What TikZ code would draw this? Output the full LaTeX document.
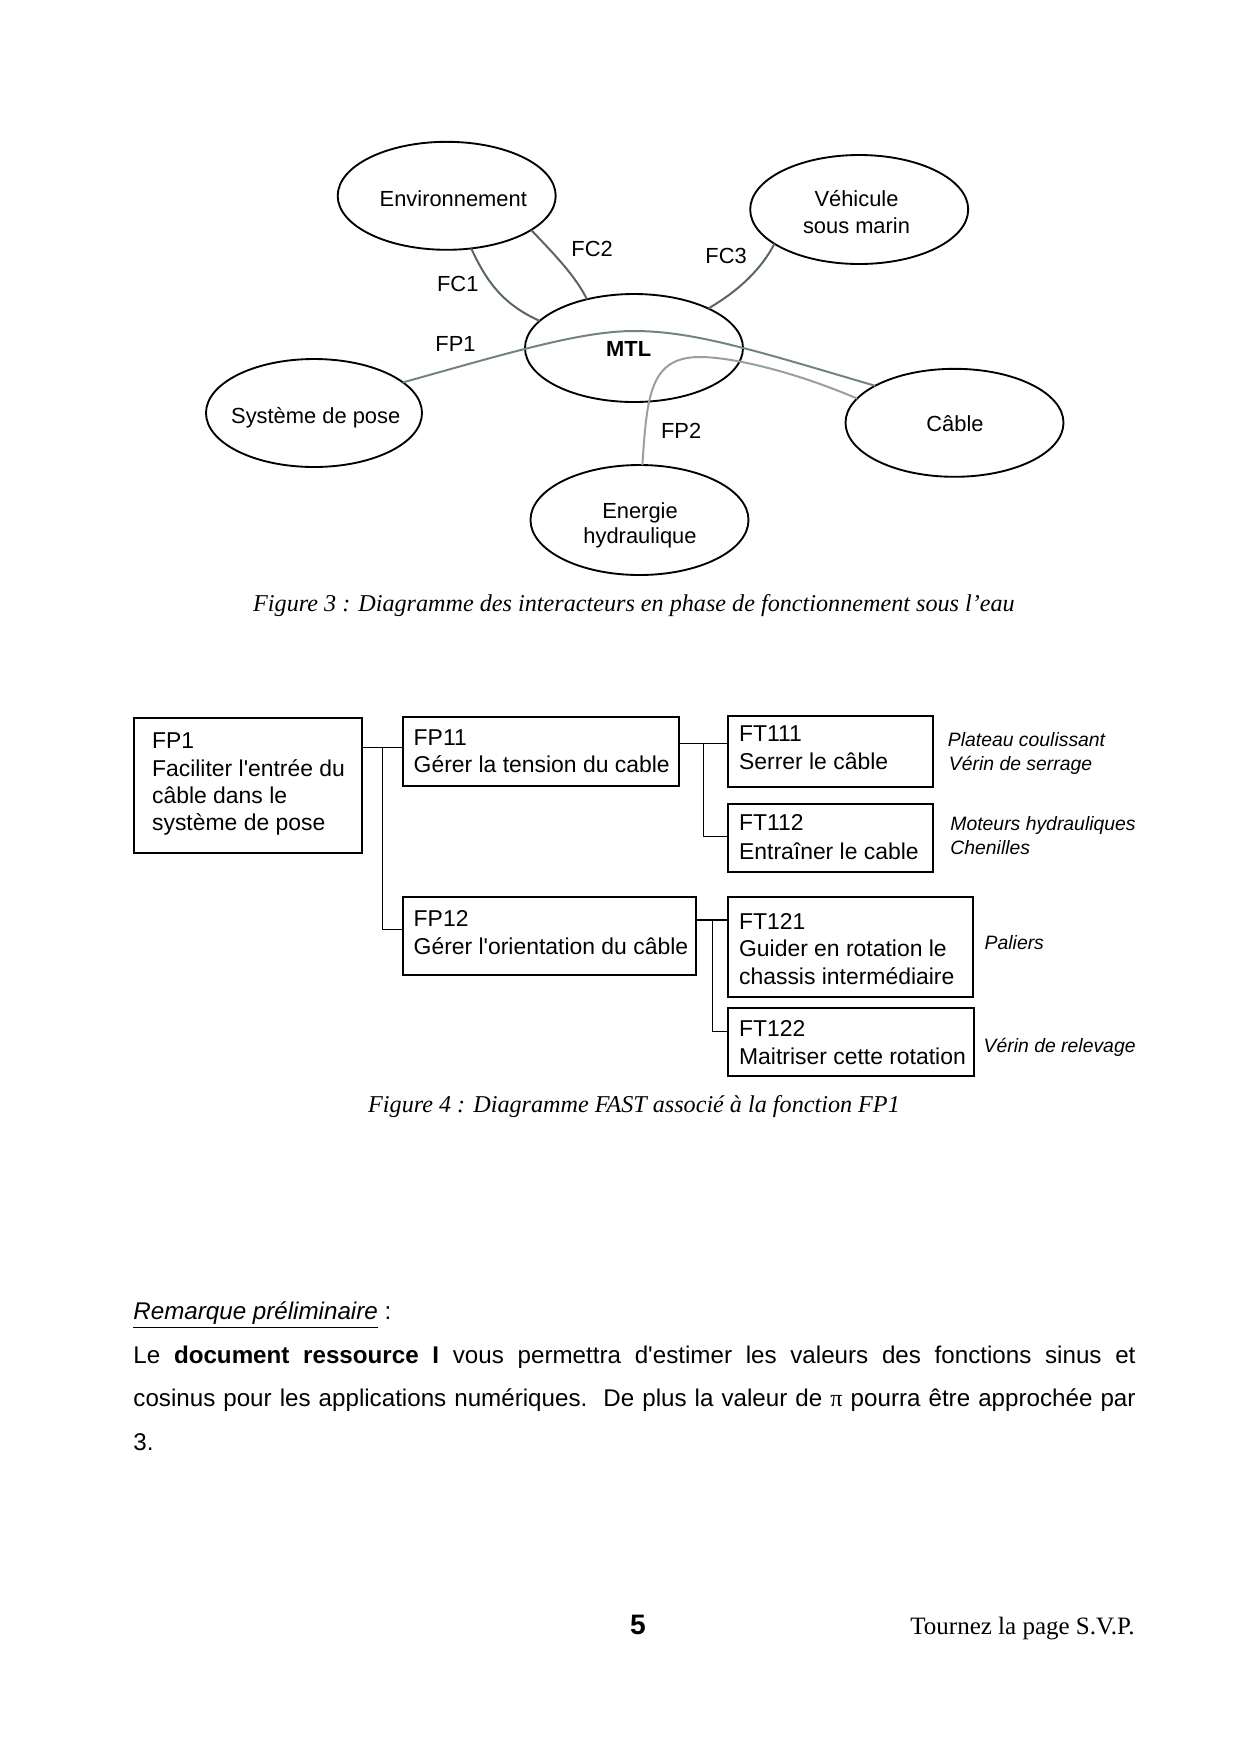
\documentclass[tikz,border=0pt]{standalone}
\usepackage{fontspec}
\setmainfont{Liberation Sans}
\newfontfamily\arialf{Liberation Sans}
\newfontfamily\seriff{Liberation Serif}
\usetikzlibrary{shapes.geometric,fit}
\definecolor{fcline}{RGB}{90,100,100}
\definecolor{fpone}{RGB}{115,130,130}
\definecolor{fptwo}{RGB}{150,160,160}
\begin{document}
\begin{tikzpicture}[x=0.48pt,y=-0.48pt,
  ell/.style={draw,ellipse,line width=0.9pt,inner sep=0pt,outer sep=0pt},
  elltxt/.style={inner sep=0pt,anchor=base,font=\fontsize{10.5}{12.5}\selectfont},
  flab/.style={inner sep=0pt,anchor=base west,font=\fontsize{10.5}{12.5}\selectfont},
  link/.style={line width=0.95pt},
  fbox/.style={draw,line width=0.9pt,inner sep=0pt,outer sep=0pt},
  ftxt/.style={inner sep=0pt,anchor=base west,font=\arialf\fontsize{11}{13}\selectfont},
  note/.style={inner sep=0pt,anchor=base west,font=\fontsize{9.3}{11}\selectfont\itshape},
  tee/.style={line width=0.6pt},
  captxt/.style={inner sep=0pt,anchor=base,font=\seriff\itshape\fontsize{11.6}{14}\selectfont},
  para/.style={inner sep=0pt,anchor=base west,font=\arialf\fontsize{11.6}{14}\selectfont}]
\useasboundingbox (0,0) rectangle (1240,1754);
\fill[white] (0,0) rectangle (1240,1754);

% ---------- Figure 3 ----------
\node[ell,minimum width=218*0.48pt,minimum height=108*0.48pt] (env) at (446.7,195.8) {};
\node[ell,minimum width=218*0.48pt,minimum height=109*0.48pt] (veh) at (859.2,209.5) {};
\node[ell,minimum width=218*0.48pt,minimum height=108*0.48pt] (mtl) at (634,348) {};
\node[ell,minimum width=216*0.48pt,minimum height=108*0.48pt] (sys) at (314,413) {};
\node[ell,minimum width=218*0.48pt,minimum height=108*0.48pt] (cab) at (954.5,422.8) {};
\node[ell,minimum width=218*0.48pt,minimum height=110*0.48pt] (ene) at (639.5,520) {};

\node[elltxt] (tenv) at (453.3,206.7) {Environnement};
\node[elltxt] (tveh1) at (856.5,206.7) {Véhicule};
\node[elltxt] (tveh2) at (856.5,233.3) {sous marin};
\node[elltxt,font=\fontsize{10.5}{12.5}\selectfont\bfseries] (tmtl) at (628.7,356.7) {MTL};
\node[elltxt] (tsys) at (315.7,423.3) {Système de pose};
\node[elltxt] (tcab) at (955,431.7) {Câble};
\node[elltxt] (tene1) at (640,518.3) {Energie};
\node[elltxt] (tene2) at (640,543.3) {hydraulique};

\draw[link,fcline] (env.-65.2) .. controls (488,285) and (505,305) .. (mtl.164.2);
\draw[link,fcline] (env.-22.9) .. controls (552,252) and (575,275) .. (mtl.134.3);
\draw[link,fcline] (veh.202.6) .. controls (762,268) and (740,290) .. (mtl.28.5);
\coordinate (fp1top) at (634,331);
\coordinate (fp2bend) at (700,357);
\draw[link,fpone] (sys.19.3) .. controls (505,354) and (580,331) .. (fp1top)
   .. controls (695,331) and (760,352) .. (cab.155);
\draw[link,fptwo] (ene.87.7) .. controls (647,395) and (650,357) .. (fp2bend)
   .. controls (730,357) and (790,370) .. (cab.166.9);

\node[flab] (lfc1) at (436.7,291.7) {FC1};
\node[flab] (lfc2) at (571,256.7) {FC2};
\node[flab] (lfc3) at (705,263.3) {FC3};
\node[flab] (lfp1) at (435,351.7) {FP1};
\node[flab] (lfp2) at (660.7,438.3) {FP2};

\node[captxt] (cap3) at (634,611.6) {Figure 3 : Diagramme des interacteurs en phase de fonctionnement sous l’eau};

% ---------- Figure 4 ----------
\node[fbox,fit={(134,718.3) (361.7,853.3)}] (fp1) {};
\node[fbox,fit={(403.3,717.3) (679.3,786)}] (fp11) {};
\node[fbox,fit={(403.3,897.3) (696,975)}] (fp12) {};
\node[fbox,fit={(728.3,716) (932.7,787.3)}] (ft111) {};
\node[fbox,fit={(728.3,804) (932.7,871.7)}] (ft112) {};
\node[fbox,fit={(728.3,897.3) (972.7,996.7)}] (ft121) {};
\node[fbox,fit={(728.3,1008.3) (974.3,1075.7)}] (ft122) {};

\coordinate (j1) at (382.7,747.3);
\coordinate (j1b) at (382.7,929.3);
\draw[tee] (fp1.east |- j1) -- (fp11.west |- j1);
\draw[tee] (j1) -- (j1b) -- (fp12.west |- j1b);
\coordinate (j2) at (703.3,743.3);
\coordinate (j2b) at (703.3,836.7);
\draw[tee] (fp11.east |- j2) -- (ft111.west |- j2);
\draw[tee] (j2) -- (j2b) -- (ft112.west |- j2b);
\coordinate (j3) at (712.7,920);
\coordinate (j3b) at (712.7,1031.7);
\draw[tee] (fp12.east |- j3) -- (ft121.west |- j3);
\draw[tee] (j3) -- (j3b) -- (ft122.west |- j3b);

\node[ftxt] (a1) at (151.7,748.3) {FP1};
\node[ftxt] (a2) at (151.7,776) {Faciliter l'entrée du};
\node[ftxt] (a3) at (151.7,803.3) {câble dans le};
\node[ftxt] (a4) at (151.7,830.3) {système de pose};
\node[ftxt] (b1) at (413.3,745) {FP11};
\node[ftxt] (b2) at (413.3,772.7) {Gérer la tension du cable};
\node[ftxt] (c1) at (413.3,926.7) {FP12};
\node[ftxt] (c2) at (413.3,954) {Gérer l'orientation du câble};
\node[ftxt] (d1) at (738.7,741.7) {FT111};
\node[ftxt] (d2) at (738.7,769) {Serrer le câble};
\node[ftxt] (e1) at (738.7,830.7) {FT112};
\node[ftxt] (e2) at (738.7,859.3) {Entraîner le cable};
\node[ftxt] (f1) at (738.7,929.3) {FT121};
\node[ftxt] (f2) at (738.7,956.7) {Guider en rotation le};
\node[ftxt] (f3) at (738.7,984) {chassis intermédiaire};
\node[ftxt] (g1) at (738.7,1036.7) {FT122};
\node[ftxt] (g2) at (738.7,1064.3) {Maitriser cette rotation};

\node[note] (n1) at (947.5,746.7) {Plateau coulissant};
\node[note] (n2) at (948.5,770) {Vérin de serrage};
\node[note] (n3) at (950,830) {Moteurs hydrauliques};
\node[note] (n4) at (950,854) {Chenilles};
\node[note] (n5) at (984.3,949.3) {Paliers};
\node[note] (n6) at (983.3,1052.3) {Vérin de relevage};

\node[captxt] (cap4) at (634,1112.6) {Figure 4 : Diagramme FAST associé à la fonction FP1};

% ---------- text ----------
\node[para] (rq) at (133,1319.4) {\underline{\itshape Remarque préliminaire} :};
\node[para] (p1) at (133,1363) {\makebox[481pt][s]{Le \textbf{document ressource I} vous permettra d'estimer les valeurs des fonctions sinus et}};
\node[para] (p2) at (133,1406.6) {\makebox[481pt][s]{cosinus pour les applications numériques.\ \ De plus la valeur de {\seriff π} pourra être approchée par}};
\node[para] (p3) at (133,1450.2) {3.};

\node[inner sep=0pt,anchor=base,font=\fontsize{13.5}{16}\selectfont\bfseries] (pg) at (638,1634.6) {5};
\node[inner sep=0pt,anchor=base east,font=\seriff\fontsize{12}{14}\selectfont] (svp) at (1135,1634.6) {Tournez la page S.V.P.};
\end{tikzpicture}
\end{document}
